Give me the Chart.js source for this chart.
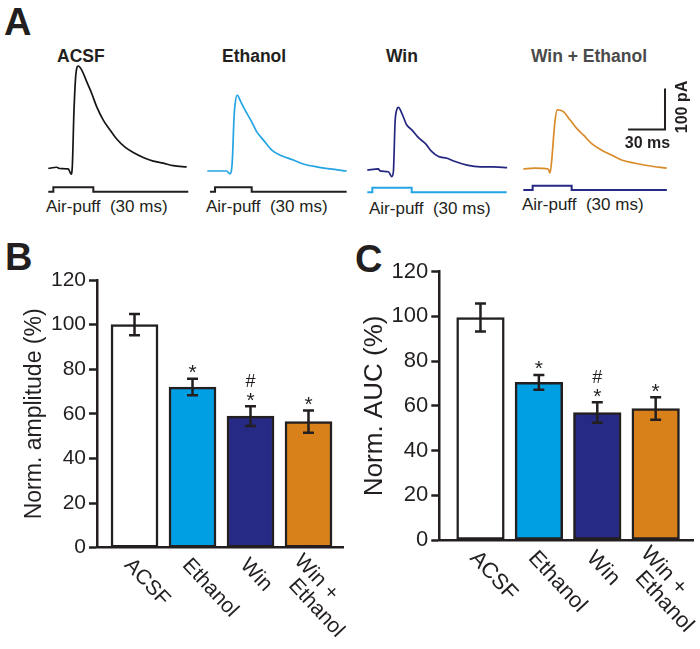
<!DOCTYPE html>
<html>
<head>
<meta charset="utf-8">
<script src="https://cdn.jsdelivr.net/npm/chart.js@4/dist/chart.umd.min.js"></script>
<style>
body { margin: 0; background: #fff; width: 700px; height: 649px; position: relative; overflow: hidden; font-family: "Liberation Sans", Arial, sans-serif; color: #231f20; }
canvas, .t { position: absolute; }
.t { white-space: pre; line-height: 1; }
.panel { font-weight: bold; font-size: 38px; }
.name { font-weight: bold; font-size: 17.5px; }
.puff { font-size: 17px; }
</style>
</head>
<body>
<div class="t panel" style="left:4px;top:3px">A</div>
<div class="t panel" style="left:5px;top:238px">B</div>
<div class="t panel" style="left:355px;top:240px">C</div>

<div class="t name" style="left:57px;top:48px">ACSF</div>
<div class="t name" style="left:222px;top:48px">Ethanol</div>
<div class="t name" style="left:386px;top:48px">Win</div>
<div class="t name" style="left:531px;top:48px;color:#4a4a4a">Win + Ethanol</div>

<div class="t puff" style="left:46px;top:198px">Air-puff  (30 ms)</div>
<div class="t puff" style="left:206px;top:198px">Air-puff  (30 ms)</div>
<div class="t puff" style="left:369px;top:200px">Air-puff  (30 ms)</div>
<div class="t puff" style="left:522px;top:196px">Air-puff  (30 ms)</div>

<script>
// ---- data ----
const groups = ['ACSF', 'Ethanol', 'Win', 'Win + Ethanol'];
const groupLabels = [['ACSF'], ['Ethanol'], ['Win'], ['Win +', 'Ethanol']];
const amplitude = [100, 72, 59, 56.5];
const amplitudeSem = [4.8, 3.7, 4.4, 5];
const auc = [99.5, 70.5, 57, 58.8];
const aucSem = [6.3, 3.3, 4.6, 5];
const starMarks = ['', '*', '*', '*'];
const hashMarks = ['', '', '#', ''];
const yTicks = [0, 20, 40, 60, 80, 100, 120];

// traces: time (ms) / current (pA, inward plotted up)
const acsfT = [0, 6.8, 9.5, 16.3, 18.5, 19.5, 20.9, 22.5, 24.4, 27.2, 31.2, 35.3, 39.3, 44.7, 50.2, 55.6, 62.4, 69.1, 77.2, 85.4, 93.5, 101.6, 112.5];
const acsfI = [0, 3, 0, -1, -14, 4, 143, 232, 250, 240, 212, 183, 151, 118, 94, 72, 52, 39, 27, 18, 13, 7, 4];
const ethT = [0, 15.8, 18.4, 20.3, 21.7, 22.5, 24.4, 26.6, 30.6, 36.1, 40.1, 45.5, 52.4, 60.5, 70, 78.1, 89, 99.8, 113.3];
const ethI = [0, 0, -7, 23, 128, 161, 185, 173, 149, 120, 96, 76, 51, 37, 27, 17, 10, 5, 0];
const winT = [0, 9, 10.3, 17.1, 19.9, 21.2, 22.6, 23.9, 25.3, 28, 32.1, 36.2, 41.6, 47.1, 52.5, 57.9, 64.8, 70.2, 81.1, 91.9, 102.8, 113.7];
const winI = [1, 4, -1, -3, -15, -3, 119, 148, 154, 140, 111, 99, 80, 66, 46, 34, 30, 23, 13, 9, 9, 7];
const winEthT = [0, 9.5, 20.3, 21.7, 23, 25.7, 27.6, 32.5, 37.9, 43.4, 48.8, 55.6, 63.7, 71.8, 79.9, 90.8, 101.6, 116.6];
const winEthI = [0, 2, 0, -10, 18, 115, 144, 140, 120, 99, 83, 62, 46, 34, 22, 14, 8, 2];

// air-puff command steps (ms / off-on)
const puffV = [0, 1, 0, 0];
const acsfPuffT = [0, 4.1, 36.6, 113.8];
const ethPuffT = [2.2, 6.3, 36.1, 113.3];
const winPuffT = [0, 4.1, 36.1, 113.3];
const winEthPuffT = [0, 7.6, 39.3, 116.7];

// scale bar
const scaleBarMs = 30;
const scaleBarPa = 100;

// ---- styles ----
const INK = '#231f20';
const FONT = '"Liberation Sans", Arial, sans-serif';
const barColors = ['#ffffff', '#009fe3', '#262a84', '#d8811b'];
const PX_PER_MS = 1.23, PX_PER_PA = 0.41;
const TRACE_TOP = 40, TRACE_H = 180;

function addCanvas(left, top, w, h) {
    const cv = document.createElement('canvas');
    cv.width = w;
    cv.height = h;
    cv.style.left = left + 'px';
    cv.style.top = top + 'px';
    document.body.appendChild(cv);
    return cv;
}

const scaleBarPlugin = {
    id: 'scaleBar',
    afterDatasetsDraw(chart) {
        const { ctx, scales: { x, y } } = chart;
        const cornerT = 115.2, cornerI = 96.3; // where the bar's corner sits
        const x0 = x.getPixelForValue(cornerT - scaleBarMs), x1 = x.getPixelForValue(cornerT);
        const y0 = y.getPixelForValue(cornerI), y1 = y.getPixelForValue(cornerI + scaleBarPa);
        ctx.save();
        ctx.strokeStyle = INK;
        ctx.lineWidth = 2;
        ctx.beginPath();
        ctx.moveTo(x0, y0); ctx.lineTo(x1, y0); ctx.lineTo(x1, y1);
        ctx.stroke();
        ctx.fillStyle = INK;
        ctx.font = 'bold 16px ' + FONT;
        ctx.textAlign = 'center';
        ctx.textBaseline = 'middle';
        ctx.fillText(scaleBarMs + ' ms', (x0 + x1) / 2 + 1, y0 + 14);
        ctx.translate(x1 + 18, (y0 + y1) / 2 - 2);
        ctx.rotate(-Math.PI / 2);
        ctx.fillText(scaleBarPa + ' pA', 0, 0);
        ctx.restore();
    }
};

function traceChart(o) {
    const cv = addCanvas(o.left, TRACE_TOP, o.w, TRACE_H);
    const xMin = (o.left - o.x0) / PX_PER_MS;
    const u = o.puffBase - o.puffHigh;
    new Chart(cv, {
        type: 'line',
        data: {
            datasets: [{
                data: o.t.map((t, i) => ({ x: t, y: o.i[i] })),
                borderColor: o.color,
                borderWidth: 1.7,
                pointRadius: 0,
                cubicInterpolationMode: 'monotone',
                yAxisID: 'y'
            }, {
                data: o.puffT.map((t, i) => ({ x: t, y: puffV[i] })),
                borderColor: o.puffColor,
                borderWidth: 2,
                pointRadius: 0,
                stepped: true,
                yAxisID: 'y2'
            }]
        },
        options: {
            responsive: false,
            animation: false,
            events: [],
            layout: { padding: 0 },
            plugins: { legend: { display: false }, tooltip: { enabled: false } },
            scales: {
                x: { type: 'linear', display: false, min: xMin, max: xMin + o.w / PX_PER_MS },
                y: { display: false, min: -(TRACE_TOP + TRACE_H - o.base) / PX_PER_PA, max: (o.base - TRACE_TOP) / PX_PER_PA },
                y2: { display: false, min: -(TRACE_TOP + TRACE_H - o.puffBase) / u, max: (o.puffBase - TRACE_TOP) / u }
            }
        },
        plugins: o.plugins || []
    });
}

traceChart({ left: 38, w: 162, x0: 48.3, base: 168.5, puffBase: 191.7, puffHigh: 187.3, t: acsfT, i: acsfI, puffT: acsfPuffT, color: '#151515', puffColor: INK });
traceChart({ left: 198, w: 160, x0: 207.3, base: 171, puffBase: 191.7, puffHigh: 187.3, t: ethT, i: ethI, puffT: ethPuffT, color: '#25a4e4', puffColor: INK });
traceChart({ left: 358, w: 160, x0: 367.3, base: 170.5, puffBase: 192.3, puffHigh: 187.7, t: winT, i: winI, puffT: winPuffT, color: '#252680', puffColor: '#25a4e4' });
traceChart({ left: 514, w: 186, x0: 523.3, base: 169, puffBase: 190, puffHigh: 185.7, t: winEthT, i: winEthI, puffT: winEthPuffT, color: '#d98b2a', puffColor: '#262a85', plugins: [scaleBarPlugin] });

// error bars, significance marks and slanted group names
function barDecor(values, sem, labelSize) {
    return {
        id: 'barDecor',
        afterDatasetsDraw(chart) {
            const { ctx, scales: { x, y } } = chart;
            ctx.save();
            ctx.strokeStyle = INK;
            ctx.fillStyle = INK;
            ctx.lineWidth = 2.5;
            values.forEach((v, i) => {
                const cx = x.getPixelForValue(i);
                const top = y.getPixelForValue(v + sem[i]);
                const bot = y.getPixelForValue(v - sem[i]);
                ctx.beginPath();
                ctx.moveTo(cx, top); ctx.lineTo(cx, bot);
                ctx.moveTo(cx - 5.5, top); ctx.lineTo(cx + 5.5, top);
                ctx.moveTo(cx - 5.5, bot); ctx.lineTo(cx + 5.5, bot);
                ctx.stroke();
                ctx.textAlign = 'center';
                ctx.textBaseline = 'alphabetic';
                ctx.font = '21px ' + FONT;
                if (starMarks[i]) ctx.fillText(starMarks[i], cx, top + 0.5);
                ctx.font = '18px ' + FONT;
                if (hashMarks[i]) ctx.fillText(hashMarks[i], cx, top - 19.5);
            });
            // group names
            const axisY = y.getPixelForValue(0);
            ctx.font = labelSize + 'px ' + FONT;
            ctx.textAlign = 'left';
            ctx.textBaseline = 'top';
            const ang = 47 * Math.PI / 180;
            groupLabels.forEach((lines, i) => {
                const cx = x.getPixelForValue(i);
                lines.forEach((line, k) => {
                    ctx.save();
                    ctx.translate(cx + 1, axisY + 7);
                    ctx.rotate(ang);
                    ctx.fillText(line, k * 14 - (lines.length > 1 ? 6 : 0), k * 21);
                    ctx.restore();
                });
            });
            ctx.restore();
        }
    };
}

function barChart(o) {
    const cv = addCanvas(o.cLeft, 220, 350, 429);
    new Chart(cv, {
        type: 'bar',
        data: {
            datasets: [{
                data: o.values.map((v, i) => ({ x: i, y: v })),
                backgroundColor: barColors,
                borderColor: INK,
                borderWidth: 2.5,
                borderSkipped: false,
                barThickness: o.barW
            }]
        },
        options: {
            responsive: false,
            animation: false,
            events: [],
            layout: { padding: { top: o.padTop, right: o.padRight, left: 0, bottom: 0 } },
            plugins: { legend: { display: false }, tooltip: { enabled: false } },
            scales: {
                x: {
                    type: 'linear', offset: false, min: o.xMin, max: o.xMax,
                    ticks: { display: false },
                    grid: { display: false, offset: false },
                    border: { display: true, color: INK, width: 2.5 },
                    afterFit: s => { s.height = o.axisH; }
                },
                y: {
                    min: 0, max: 120,
                    afterBuildTicks: s => { s.ticks = yTicks.map(v => ({ value: v })); },
                    ticks: { color: INK, padding: 3, font: { family: FONT, size: o.tickSize } },
                    grid: { drawOnChartArea: false, drawTicks: true, tickLength: 8, tickWidth: 2.5, tickColor: INK },
                    border: { display: true, color: INK, width: 2.5 },
                    title: { display: true, text: o.title, color: INK, padding: o.titlePad, font: { family: FONT, size: o.titleSize } },
                    afterFit: s => { s.width = o.axisW; }
                }
            }
        },
        plugins: [barDecor(o.values, o.sem, o.labelSize)]
    });
}

barChart({ cLeft: 0, values: amplitude, sem: amplitudeSem, title: 'Norm. amplitude (%)', titleSize: 23, titlePad: 21, tickSize: 21, labelSize: 21,
    axisW: 97, padTop: 60, padRight: 7, axisH: 101.3, xMin: -0.647, xMax: 3.595, barW: 47 });
barChart({ cLeft: 350, values: auc, sem: aucSem, title: 'Norm. AUC (%)', titleSize: 26, titlePad: 9, tickSize: 22, labelSize: 22,
    axisW: 89.3, padTop: 51.7, padRight: 7, axisH: 109, xMin: -0.705, xMax: 3.639, barW: 47.6 });
</script>
</body>
</html>
